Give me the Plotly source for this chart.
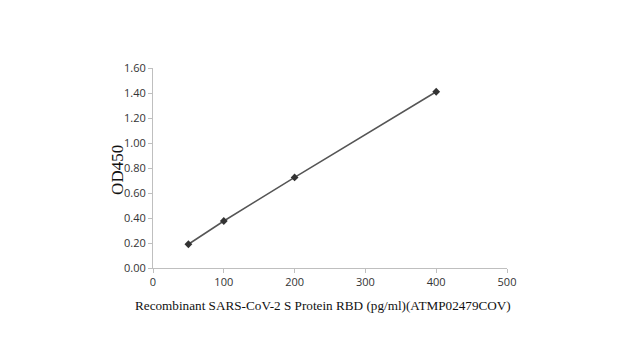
import plotly.graph_objects as go

concentration = [50, 100, 200, 400]
od450 = [0.19, 0.376, 0.725, 1.41]
x_ticks = [0, 100, 200, 300, 400, 500]
y_ticks = [0.0, 0.2, 0.4, 0.6, 0.8, 1.0, 1.2, 1.4, 1.6]
y_tick_labels = ["%.2f" % v for v in y_ticks]
x_title = "Recombinant SARS-CoV-2 S Protein RBD (pg/ml)(ATMP02479COV)"
y_title = "OD450"

fig = go.Figure()
fig.add_trace(go.Scatter(
    x=concentration, y=od450, mode="lines+markers",
    line=dict(color="#555555", width=1.5),
    marker=dict(symbol="diamond", size=6, color="#333333"),
    showlegend=False,
))

serif = "Liberation Serif, Times New Roman, serif"
fig.update_layout(
    width=620, height=360,
    margin=dict(l=145, r=121, t=60, b=100),
    paper_bgcolor="white", plot_bgcolor="white",
    xaxis=dict(
        range=[0, 500], tickvals=x_ticks, showgrid=False, zeroline=False,
        showline=True, linecolor="#bfbfbf", linewidth=1, automargin=False,
        ticks="outside", ticklen=4, tickcolor="#bfbfbf",
        tickfont=dict(family="Open Sans, sans-serif", size=11, color="#333333"),
    ),
    yaxis=dict(
        range=[0, 1.6], tickvals=y_ticks, ticktext=y_tick_labels,
        showgrid=False, zeroline=False, automargin=False,
        showline=True, linecolor="#bfbfbf", linewidth=1,
        ticks="outside", ticklen=4, tickcolor="#bfbfbf",
        tickfont=dict(family="Open Sans, sans-serif", size=11, color="#333333"),
    ),
    annotations=[
        dict(text=x_title, xref="paper", yref="paper", x=0.479, y=-0.185,
             xanchor="center", yanchor="middle", showarrow=False,
             font=dict(family=serif, size=13.2, color="#111111")),
        dict(text=y_title, xref="paper", yref="paper", x=-0.102, y=0.49,
             xanchor="center", yanchor="middle", showarrow=False, textangle=-90,
             font=dict(family=serif, size=17, color="#111111")),
    ],
)

fig.write_html("out.html")
